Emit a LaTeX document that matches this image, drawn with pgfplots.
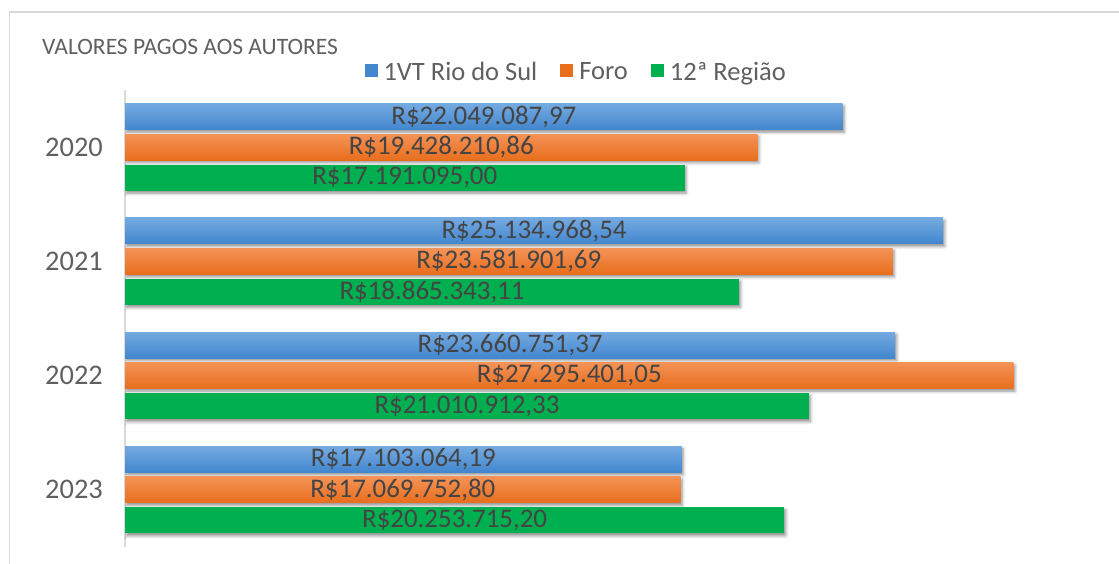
\documentclass[border=0pt]{standalone}
\usepackage{pgfplots}
\pgfplotsset{compat=1.18}
\usepackage{pgfplotstable}
\usepackage{fontspec}
\setmainfont{Carlito}
\usetikzlibrary{shadows,shadows.blur}
\definecolor{bluetop}{RGB}{116,170,225}
\definecolor{bluebot}{RGB}{66,134,206}
\definecolor{orgtop}{RGB}{244,146,86}
\definecolor{orgbot}{RGB}{232,110,28}
\definecolor{grn}{RGB}{0,176,80}
\definecolor{txt}{RGB}{96,96,96}
\definecolor{lab}{RGB}{68,68,68}
\definecolor{framec}{RGB}{217,217,217}

% values in millions of R$
\pgfplotstableread{
y blue orange green lb lo lg
3 22.04908797 19.42821086 17.19109500 R\$22.049.087,97 R\$19.428.210,86 R\$17.191.095,00
2 25.13496854 23.58190169 18.86534311 R\$25.134.968,54 R\$23.581.901,69 R\$18.865.343,11
1 23.66075137 27.29540105 21.01091233 R\$23.660.751,37 R\$27.295.401,05 R\$21.010.912,33
0 17.10306419 17.06975280 20.25371520 R\$17.103.064,19 R\$17.069.752,80 R\$20.253.715,20
}\data

\pgfplotsset{
  shd/.style={blur shadow={shadow xshift=1.5bp, shadow yshift=-2.5bp, shadow blur radius=3bp, shadow opacity=45}},
  bluebar/.style={bar shift=30.5bp, draw=none, top color=bluetop, bottom color=bluebot, shd, forget plot},
  orgbar/.style={bar shift=0bp, draw=none, top color=orgtop, bottom color=orgbot, shd, forget plot},
  grnbar/.style={bar shift=-30.5bp, draw=none, fill=grn, shd, forget plot},
  sq/.style={legend image code/.code={\fill[#1, draw=none] (0bp,-5bp) rectangle (13bp,8bp); \path[draw=none] (0bp,0bp) -- (18bp,0bp);}},
}

\begin{document}
\begin{tikzpicture}
\path[use as bounding box] (0,0) rectangle (1119bp,-564bp);
\draw[framec, line width=1.2bp] (9.5bp,-564bp) -- (9.5bp,-12bp) -- (1119bp,-12bp);
\node[anchor=base west, text=txt, font=\fontsize{23.6}{27}\selectfont, inner sep=0pt] at (42bp,-54bp) {VALORES PAGOS AOS AUTORES};
\begin{axis}[
  at={(125bp,-90bp)}, anchor=north west,
  scale only axis, width=976.5bp, height=457bp,
  xbar, bar width=26bp,
  xmin=0, xmax=30, ymin=-0.5, ymax=3.5,
  axis x line=none, axis y line*=left,
  y axis line style={framec, line width=1.5bp},
  ytick={0,1,2,3}, yticklabels={2023,2022,2021,2020},
  major tick length=0pt,
  yticklabel style={text=txt, font=\fontsize{28.5}{30}\selectfont, inner sep=0pt, xshift=-22bp},
  legend columns=3,
  legend style={at={(0.4615,1.039)}, anchor=center, draw=none, fill=none,
    font=\fontsize{26.6}{30}\selectfont, text=txt,
    /tikz/every odd column/.append style={column sep=0bp},
    /tikz/every even column/.append style={column sep=22bp},
    nodes={inner sep=1bp}},
  nodes near coords style={anchor=center, text=lab, font=\fontsize{27}{30}\selectfont, inner sep=0pt},
]
\addlegendimage{sq=bluebot}
\addlegendentry{1VT Rio do Sul}
\addlegendimage{sq=orgbot}
\addlegendentry{Foro}
\addlegendimage{sq=grn}
\addlegendentry{12ª Região}
% 1VT Rio do Sul
\addplot[bluebar] coordinates {(22.04908797,3)};
\addplot[bluebar] coordinates {(25.13496854,2)};
\addplot[bluebar] coordinates {(23.66075137,1)};
\addplot[bluebar] coordinates {(17.10306419,0)};
% Foro
\addplot[orgbar] coordinates {(19.42821086,3)};
\addplot[orgbar] coordinates {(23.58190169,2)};
\addplot[orgbar] coordinates {(27.29540105,1)};
\addplot[orgbar] coordinates {(17.06975280,0)};
% 12a Regiao
\addplot[grnbar] coordinates {(17.19109500,3)};
\addplot[grnbar] coordinates {(18.86534311,2)};
\addplot[grnbar] coordinates {(21.01091233,1)};
\addplot[grnbar] coordinates {(20.25371520,0)};
% value labels, centred in each bar
\addplot[bar shift=30.5bp, draw=none, fill=none, forget plot, nodes near coords,
  point meta=explicit symbolic] table[x expr=\thisrow{blue}/2, y=y, meta=lb] {\data};
\addplot[bar shift=0bp, draw=none, fill=none, forget plot, nodes near coords,
  point meta=explicit symbolic] table[x expr=\thisrow{orange}/2, y=y, meta=lo] {\data};
\addplot[bar shift=-30.5bp, draw=none, fill=none, forget plot, nodes near coords,
  point meta=explicit symbolic] table[x expr=\thisrow{green}/2, y=y, meta=lg] {\data};
\end{axis}
\end{tikzpicture}
\end{document}
